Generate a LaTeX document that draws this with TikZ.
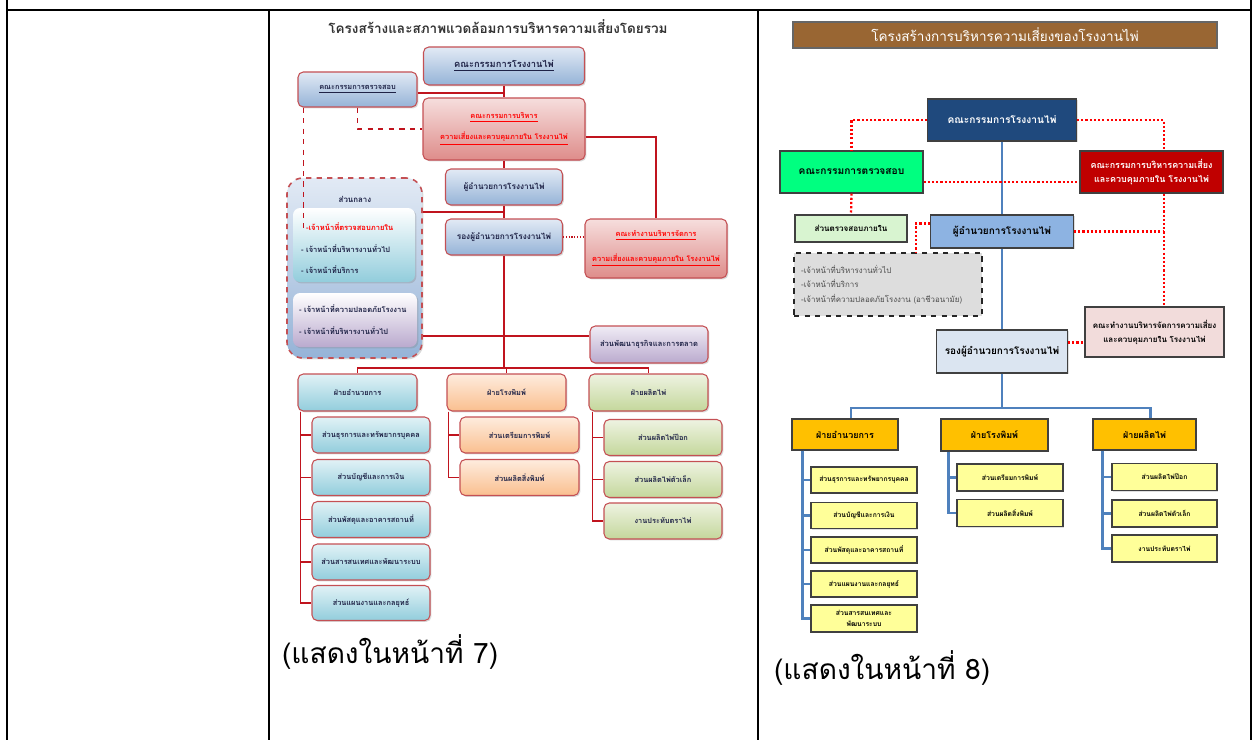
\documentclass[tikz,border=0pt]{standalone}
\usepackage{fontspec}
\newfontfamily\thai[Script=Thai]{Loma}
\usetikzlibrary{shadows,calc}
% left chart colours
\definecolor{lblue}{RGB}{149,179,215}
\definecolor{lblueL}{RGB}{226,234,245}
\definecolor{lred}{RGB}{222,140,138}
\definecolor{lredL}{RGB}{246,222,221}
\definecolor{lcyan}{RGB}{146,205,220}
\definecolor{lcyanL}{RGB}{225,242,246}
\definecolor{lorange}{RGB}{250,191,143}
\definecolor{lorangeL}{RGB}{254,236,222}
\definecolor{lgreen}{RGB}{196,215,155}
\definecolor{lgreenL}{RGB}{238,243,226}
\definecolor{lpurple}{RGB}{186,170,206}
\definecolor{lpurpleL}{RGB}{240,236,245}
\definecolor{ledge}{RGB}{196,80,84}
\definecolor{lline}{RGB}{192,20,30}
\definecolor{ltext}{RGB}{30,34,70}
% right chart colours
\definecolor{rbrown}{RGB}{153,102,51}
\definecolor{rnavy}{RGB}{31,73,125}
\definecolor{rgreen}{RGB}{0,255,128}
\definecolor{rred}{RGB}{192,0,0}
\definecolor{rmint}{RGB}{216,244,208}
\definecolor{rsky}{RGB}{141,179,226}
\definecolor{rgray}{RGB}{221,221,221}
\definecolor{rpink}{RGB}{242,220,219}
\definecolor{rpale}{RGB}{219,229,241}
\definecolor{rgold}{RGB}{255,192,0}
\definecolor{ryel}{RGB}{255,255,153}
\definecolor{rblue}{RGB}{79,129,189}
\begin{document}
\begin{tikzpicture}
  [x=0.02cm,y=-0.02cm,
   every node/.style={inner sep=1pt,align=center},
   sz/.style 2 args={minimum width=#1*0.02cm,minimum height=#2*0.02cm},
   lbox/.style={draw=ledge,line width=.6pt,rounded corners=3pt,text=ltext,
     font=\thai\bfseries\fontsize{4.2}{5.5}\selectfont,
     drop shadow={opacity=.3,shadow xshift=.8pt,shadow yshift=-.8pt}},
   lbl/.style={lbox,top color=lblueL,bottom color=lblue},
   lrd/.style={lbox,top color=lredL,bottom color=lred,text=red,
     font=\thai\bfseries\fontsize{4.2}{12}\selectfont},
   lcy/.style={lbox,top color=lcyanL,bottom color=lcyan},
   lor/.style={lbox,top color=lorangeL,bottom color=lorange},
   lgr/.style={lbox,top color=lgreenL,bottom color=lgreen},
   lpu/.style={lbox,top color=lpurpleL,bottom color=lpurple},
   lmid/.style={font=\thai\bfseries\fontsize{4.7}{6}\selectfont},
   litem/.style={anchor=west,text=ltext,font=\thai\bfseries\fontsize{4.3}{5.5}\selectfont},
   lconn/.style={lline,line width=.8pt},
   ldash/.style={lline,line width=.7pt,dashed},
   rbox/.style={draw=black!75,line width=.6pt,font=\thai\bfseries\fontsize{5.8}{7}\selectfont,
     drop shadow={opacity=.25,shadow xshift=.7pt,shadow yshift=-.7pt}},
   rbig/.style={font=\thai\bfseries\fontsize{5.7}{7}\selectfont},
   rhead/.style={rbox,fill=rgold,font=\thai\bfseries\fontsize{5.1}{6}\selectfont},
   rsmall/.style={rbox,fill=ryel,font=\thai\bfseries\fontsize{3.85}{6}\selectfont},
   rconn/.style={rblue,line width=1.5pt},
   rdot/.style={red,line width=1.3pt,dash pattern=on 1.2pt off 1.2pt},
   tbl/.style={line width=1.6pt}]
  \useasboundingbox (0,0) rectangle (1257,740);

  % table
  \draw[tbl] (7,0) -- (7,740);
  \draw[tbl] (1251,0) -- (1251,740);
  \draw[tbl] (7,10) -- (1251,10);
  \draw[tbl] (269,10) -- (269,740);
  \draw[tbl] (758,10) -- (758,740);

  % left chart
  \node (lTitle)[font=\thai\bfseries\fontsize{7.7}{9}\selectfont,text=black!80] at (498,27) {โครงสร้างและสภาพแวดล้อมการบริหารความเสี่ยงโดยรวม};
  \node (lGroup)[lbl,dashed,line width=.9pt,rounded corners=9pt,sz={135}{180}] at (354.5,268) {};
  \node (lCen)[font=\thai\bfseries\fontsize{4.5}{6}\selectfont,text=ltext] at (355,199) {ส่วนกลาง};
  \node (lIn1)[lcy,rounded corners=4pt,draw=none,top color=white,sz={122}{74}] at (354,245) {};
  \node (lIn2)[lpu,rounded corners=4pt,draw=none,top color=white,sz={124}{54}] at (355,320) {};
  \node (lIt1)[litem,text=red] at (304,227) {-เจ้าหน้าที่ตรวจสอบภายใน};
  \node (lIt2)[litem] at (299,249) {- เจ้าหน้าที่บริหารงานทั่วไป};
  \node (lIt3)[litem] at (299,270) {- เจ้าหน้าที่บริการ};
  \node (lIt4)[litem] at (297,309) {- เจ้าหน้าที่ความปลอดภัยโรงงาน};
  \node (lIt5)[litem] at (297,331) {- เจ้าหน้าที่บริหารงานทั่วไป};

  \node (lBoard)[lbl,sz={161}{38},font=\thai\bfseries\fontsize{5.3}{7}\selectfont] at (504,66) {\underline{คณะกรรมการโรงงานไพ่}};
  \node (lAudit)[lbl,sz={119}{35}] at (357.5,89.5) {\underline{คณะกรรมการตรวจสอบ}};
  \node (lRisk)[lrd,sz={162}{62}] at (504,129) {\underline{คณะกรรมการบริหาร}\\\underline{ความเสี่ยงและควบคุมภายใน โรงงานไพ่}};
  \node (lDir)[lbl,lmid,sz={117}{36}] at (504,187) {ผู้อำนวยการโรงงานไพ่};
  \node (lDep)[lbl,lmid,sz={117}{36}] at (504,237) {รองผู้อำนวยการโรงงานไพ่};
  \node (lWork)[lrd,sz={142}{59},font=\thai\bfseries\fontsize{4.2}{14}\selectfont] at (656,248.5) {\underline{คณะทำงานบริหารจัดการ}\\\underline{ความเสี่ยงและควบคุมภายใน โรงงานไพ่}};
  \node (lBiz)[lpu,sz={118}{37},font=\thai\bfseries\fontsize{4.3}{5.5}\selectfont] at (649,344.5) {ส่วนพัฒนาธุรกิจและการตลาด};

  \node (lAdm)[lcy,sz={119}{37}] at (357.5,392.5) {ฝ่ายอำนวยการ};
  \node (lPrn)[lor,sz={119}{37}] at (506.5,392.5) {ฝ่ายโรงพิมพ์};
  \node (lPro)[lgr,sz={119}{37}] at (648.5,392.5) {ฝ่ายผลิตไพ่};
  \node (la1)[lcy,sz={118}{36}] at (371,435) {ส่วนธุรการและทรัพยากรบุคคล};
  \node (la2)[lcy,sz={118}{36}] at (371,477.5) {ส่วนบัญชีและการเงิน};
  \node (la3)[lcy,sz={118}{36}] at (371,519.5) {ส่วนพัสดุและอาคารสถานที่};
  \node (la4)[lcy,sz={118}{36}] at (371,562) {ส่วนสารสนเทศและพัฒนาระบบ};
  \node (la5)[lcy,sz={118}{35}] at (371,603) {ส่วนแผนงานและกลยุทธ์};
  \node (lp1)[lor,sz={119}{36}] at (519.5,435) {ส่วนเตรียมการพิมพ์};
  \node (lp2)[lor,sz={119}{36}] at (519.5,477.5) {ส่วนผลิตสิ่งพิมพ์};
  \node (lf1)[lgr,sz={118}{36}] at (663,437.5) {ส่วนผลิตไพ่ป๊อก};
  \node (lf2)[lgr,sz={118}{36}] at (663,479.5) {ส่วนผลิตไพ่ตัวเล็ก};
  \node (lf3)[lgr,sz={118}{36}] at (663,521) {งานประทับตราไพ่};

  \foreach \from/\to in {lBoard/lRisk,lRisk/lDir,lDir/lDep}
    \draw[lconn] (\from.south) -- (\to.north);
  \coordinate (lBar) at (504,368);
  \draw[lconn] (lDep.south) -- (lBar);
  \foreach \d in {lAdm,lPrn,lPro}
    \draw[lconn] (lBar) -| (\d.north);
  \foreach \c in {la1,la2,la3,la4,la5}
    \draw[lconn] (lAdm.south west) ++(3,0) |- (\c.west);
  \foreach \c in {lp1,lp2}
    \draw[lconn] (lPrn.south west) ++(2,0) |- (\c.west);
  \foreach \c in {lf1,lf2,lf3}
    \draw[lconn] (lPro.south west) ++(4,0) |- (\c.west);
  \coordinate (lJoin0) at (504,93);
  \draw[lconn] (lJoin0 -| lAudit.east) -- (lJoin0);
  \draw[ldash] (lAudit.south) |- (lRisk.west);
  \draw[ldash] (lAudit.south west) ++(6,0) |- (lIt1.west);
  \coordinate (lJoin) at (504,212);
  \draw[lconn] (lJoin -| lGroup.east) -- (lJoin);
  \coordinate (lJoin2) at (504,336);
  \draw[lconn] (lJoin2 -| lGroup.east) -- (lJoin2 -| lBiz.west);
  \draw[lconn] (lRisk.east) ++(0,8) -| (lWork.north);
  \draw[lline,densely dotted,line width=.6pt] (lDep.east) -- (lDep.east -| lWork.west);

  % right chart
  \node (rTitle)[fill=rbrown,draw=black!60,line width=.8pt,sz={424}{26},text=white,font=\thai\fontsize{7.7}{9}\selectfont] at (1005,35) {โครงสร้างการบริหารความเสี่ยงของโรงงานไพ่};
  \node (rBoard)[rbox,fill=rnavy,text=white,sz={149}{42}] at (1002,120) {คณะกรรมการโรงงานไพ่};
  \node (rAudit)[rbox,fill=rgreen,sz={143}{42}] at (851.5,172) {คณะกรรมการตรวจสอบ};
  \node (rRisk)[rbox,fill=rred,text=white,sz={143}{42},font=\thai\bfseries\fontsize{5.1}{7.5}\selectfont] at (1151.5,172) {คณะกรรมการบริหารความเสี่ยง\\และควบคุมภายใน โรงงานไพ่};
  \node (rInt)[rbox,fill=rmint,sz={112}{27},font=\thai\bfseries\fontsize{4.6}{6}\selectfont] at (851,228.5) {ส่วนตรวจสอบภายใน};
  \node (rDir)[rbox,rbig,fill=rsky,sz={143}{33}] at (1002,231.5) {ผู้อำนวยการโรงงานไพ่};
  \node (rStaff)[fill=rgray,draw=black!85,dashed,line width=1.3pt,sz={188}{63}] at (888,284.5) {};
  \node (rSt)[anchor=west,align=left,text=black!70,font=\thai\fontsize{4.5}{8.2}\selectfont] at (799,284.5) {-เจ้าหน้าที่บริหารงานทั่วไป\\-เจ้าหน้าที่บริการ\\-เจ้าหน้าที่ความปลอดภัยโรงงาน (อาชีวอนามัย)};
  \node (rWork)[rbox,fill=rpink,sz={139}{50},font=\thai\bfseries\fontsize{4.55}{8}\selectfont] at (1154.5,332) {คณะทำงานบริหารจัดการความเสี่ยง\\และควบคุมภายใน โรงงานไพ่};
  \node (rDep)[rbox,rbig,fill=rpale,sz={131}{43}] at (1002,351.5) {รองผู้อำนวยการโรงงานไพ่};

  \node (rAdm)[rhead,sz={106}{31}] at (845,434.5) {ฝ่ายอำนวยการ};
  \node (rPrn)[rhead,sz={107}{32}] at (994.5,435) {ฝ่ายโรงพิมพ์};
  \node (rPro)[rhead,sz={103}{31}] at (1144.5,434.5) {ฝ่ายผลิตไพ่};
  \node (ra1)[rsmall,sz={106}{26}] at (864,480) {ส่วนธุรการและทรัพยากรบุคคล};
  \node (ra2)[rsmall,sz={106}{26}] at (864,515.5) {ส่วนบัญชีและการเงิน};
  \node (ra3)[rsmall,sz={106}{26}] at (864,550) {ส่วนพัสดุและอาคารสถานที่};
  \node (ra4)[rsmall,sz={106}{26}] at (864,584) {ส่วนแผนงานและกลยุทธ์};
  \node (ra5)[rsmall,sz={106}{27}] at (864,618.5) {ส่วนสารสนเทศและ\\พัฒนาระบบ};
  \node (rp1)[rsmall,sz={106}{27}] at (1010,477.5) {ส่วนเตรียมการพิมพ์};
  \node (rp2)[rsmall,sz={106}{27}] at (1010,513) {ส่วนผลิตสิ่งพิมพ์};
  \node (rf1)[rsmall,sz={105}{27}] at (1164.5,477) {ส่วนผลิตไพ่ป๊อก};
  \node (rf2)[rsmall,sz={105}{27}] at (1164.5,513.5) {ส่วนผลิตไพ่ตัวเล็ก};
  \node (rf3)[rsmall,sz={105}{27}] at (1164.5,548.5) {งานประทับตราไพ่};

  \foreach \from/\to in {rBoard/rDir,rDir/rDep}
    \draw[rconn] (\from.south) -- (\to.north);
  \coordinate (rBar) at (1002,408);
  \draw[rconn] (rDep.south) -- (rBar);
  \draw[rconn] (rBar) -| ($(rAdm.north)+(6,0)$);
  \draw[rconn] (rBar) -| ($(rPro.north)+(6,0)$);
  \foreach \c in {ra1,ra2,ra3,ra4,ra5}
    \draw[rconn] (rAdm.south west) ++(11,0) |- (\c.west);
  \foreach \c in {rp1,rp2}
    \draw[rconn] (rPrn.south west) ++(8,0) |- (\c.west);
  \foreach \c in {rf1,rf2,rf3}
    \draw[rconn] (rPro.south west) ++(10,0) |- (\c.west);

  \coordinate (rV) at (1164,300);
  \draw[rdot] (rBoard.west) -| (rAudit.north);
  \draw[rdot] (rBoard.east) -| (rV |- rRisk.north);
  \draw[rdot] (rAudit.south) -- (rInt.north);
  \draw[rdot] (rV |- rRisk.south) -- (rV |- rWork.north);
  \draw[rdot] (rDir.east) -- (rDir.east -| rV);
  \coordinate (rK) at ($(rAudit.east)+(0,10)$);
  \draw[rdot] (rK) -- (rK -| rRisk.west);
  \coordinate (rS) at ($(rStaff.north)+(28,0)$);
  \draw[rdot] (rDir.west) ++(0,-8) -| (rS);
  \coordinate (rQ) at ($(rDep.east)+(0,-9)$);
  \draw[rdot] (rQ) -- (rQ -| rWork.west);

  % captions
  \node (cap7)[anchor=west,font=\thai\fontsize{16}{18}\selectfont] at (280,652) {(แสดงในหน้าที่ 7)};
  \node (cap8)[anchor=west,font=\thai\fontsize{16}{18}\selectfont] at (772,668) {(แสดงในหน้าที่ 8)};
\end{tikzpicture}
\end{document}
